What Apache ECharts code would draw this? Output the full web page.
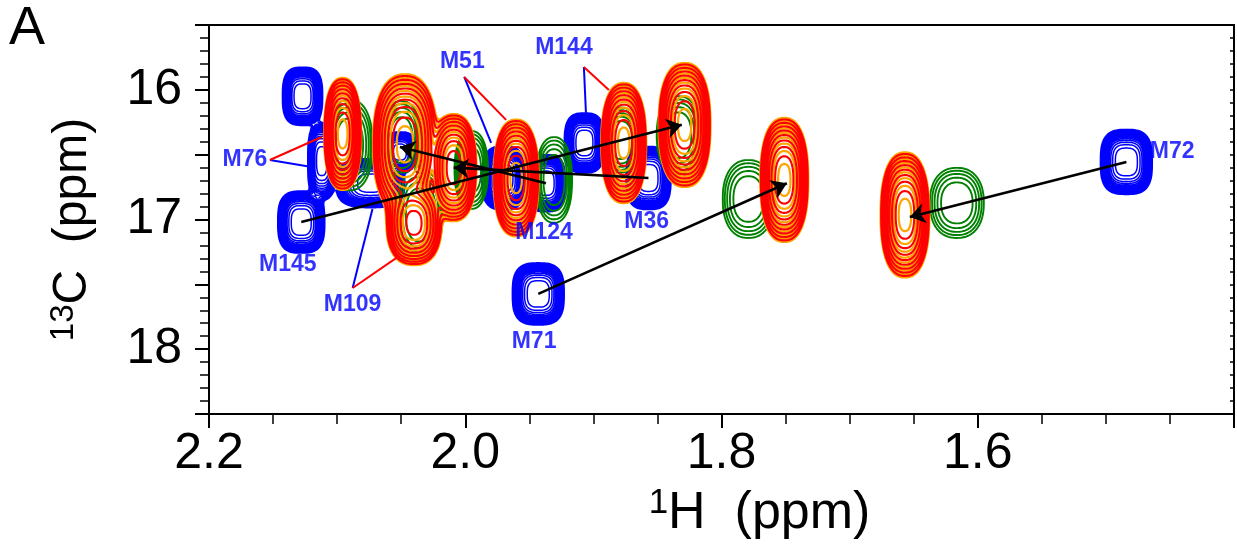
<!DOCTYPE html>
<html>
<head>
<meta charset="utf-8">
<title>Methyl 1H-13C HMQC overlay</title>
<script src="https://cdn.jsdelivr.net/npm/echarts@6/dist/echarts.min.js"></script>
<style>
  html, body { margin: 0; padding: 0; background: #ffffff; }
  #chart { width: 1237px; height: 549px; }
</style>
</head>
<body>
<div id="chart"></div>
<script>
// ---- spectral window (ppm) ----
const H_MIN = 1.4, H_MAX = 2.2;
const C_MIN = 15.5, C_MAX = 18.5;

// ---- peaks: [1H ppm, 13C ppm, half-width 1H, half-width 13C, relative height] ----
// reference state (blue)
const refPeaks = [
  [2.127, 16.05, 0.0156, 0.224, 1.0],
  [2.128, 17.02, 0.0183, 0.239, 1.0],   // M145
  [2.112, 16.55, 0.0110, 0.300, 0.9],   // M76
  [2.074, 16.72, 0.0270, 0.190, 0.9],   // M109
  [2.051, 16.48, 0.0130, 0.160, 0.7],
  [1.970, 16.68, 0.0170, 0.245, 1.0],   // M51
  [1.937, 16.72, 0.0150, 0.220, 1.0],   // M124
  [1.907, 16.41, 0.0156, 0.231, 1.0],   // M144
  [1.857, 16.68, 0.0175, 0.243, 1.0],   // M36
  [1.943, 17.574, 0.0202, 0.239, 1.0],  // M71
  [1.484, 16.556, 0.0202, 0.250, 1.0]   // M72
];
// intermediate state (green)
const midPeaks = [
  [1.6163, 16.872, 0.0210, 0.27, 1.0],
  [1.779, 16.842, 0.0200, 0.30, 1.0],
  [1.8335, 16.35, 0.0170, 0.30, 1.0],
  [1.8786, 16.387, 0.0150, 0.25, 1.0],
  [1.9307, 16.695, 0.0140, 0.33, 1.0],
  [1.9953, 16.618, 0.0130, 0.30, 1.0],
  [2.0498, 16.387, 0.0150, 0.30, 1.0],
  [2.0903, 16.425, 0.0180, 0.35, 1.0],
  [2.0358, 16.965, 0.0180, 0.35, 1.0]
];
// bound states (orange and red spectra share positions)
const boundPeaks = [
  [2.0957, 16.34, 0.0144, 0.432, 1.0],
  [2.0470, 16.42, 0.0250, 0.540, 1.0],
  [2.0090, 16.60, 0.0180, 0.420, 0.85],
  [2.0400, 17.03, 0.0220, 0.330, 0.8],
  [1.9603, 16.68, 0.0175, 0.450, 1.0],
  [1.8763, 16.41, 0.0175, 0.463, 1.0],
  [1.8288, 16.271, 0.0202, 0.478, 1.0],
  [1.751, 16.695, 0.0187, 0.478, 1.0],
  [1.6568, 16.965, 0.0190, 0.482, 1.0]
];

// ---- chemical shift perturbation arrows: start -> end ----
const arrowStart = [[2.128, 17.02], [1.937, 16.72], [1.857, 16.68], [1.943, 17.574], [1.484, 16.556]];
const arrowEnd   = [[1.831, 16.27], [2.051, 16.44], [2.009, 16.60], [1.749, 16.72], [1.653, 16.98]];

// ---- assignment labels ----
const labelNames = ['M76', 'M145', 'M109', 'M51', 'M144', 'M124', 'M36', 'M71', 'M72'];
const labelPos = [[2.172, 16.541], [2.1385, 17.35], [2.088, 17.659], [2.0023, 15.785], [1.923, 15.677],
                  [1.9385, 17.104], [1.8584, 17.019], [1.9463, 17.944], [1.4483, 16.479]];
// leader lines from labels to the reference (blue) and bound (red) peaks
const leaderBlue = [[[2.1525, 16.541], [2.1198, 16.595]], [[2.0879, 17.528], [2.0724, 16.919]],
                    [[2.0008, 15.901], [1.9798, 16.41]], [[1.9074, 15.824], [1.9058, 16.178]]];
const leaderRed  = [[[2.1525, 16.541], [2.1121, 16.364]], [[2.0879, 17.528], [2.0537, 17.296]],
                    [[2.0008, 15.901], [1.9681, 16.232]], [[1.9074, 15.824], [1.8879, 16.001]]];

// ---- contour computation on a regular grid in ppm ----
const NX = 800, NY = 300;
const DX = (H_MAX - H_MIN) / NX, DY = (C_MAX - C_MIN) / NY;
const L0 = 0.02, LN0 = Math.log(1 / L0);

function buildField(peaks, p) {
  const W = NX + 1;
  const g = new Float64Array(W * (NY + 1));
  const k = Math.pow(LN0, 1 / p);
  for (const [h, c, wh, wc, a] of peaks) {
    const sh = wh / k, sc = wc / k;
    const i0 = Math.max(0, Math.floor((h - 1.7 * wh - H_MIN) / DX));
    const i1 = Math.min(NX, Math.ceil((h + 1.7 * wh - H_MIN) / DX));
    const j0 = Math.max(0, Math.floor((c - 1.7 * wc - C_MIN) / DY));
    const j1 = Math.min(NY, Math.ceil((c + 1.7 * wc - C_MIN) / DY));
    for (let j = j0; j <= j1; j++) {
      const v = Math.pow(Math.abs((C_MIN + j * DY - c) / sc), p);
      for (let i = i0; i <= i1; i++) {
        const u = Math.pow(Math.abs((H_MIN + i * DX - h) / sh), p);
        g[j * W + i] += a * Math.exp(-(u + v));
      }
    }
  }
  return g;
}

// marching squares: appends segments [h1, c1, h2, c2] for one level
function traceLevel(g, L, out) {
  const W = NX + 1;
  for (let j = 0; j < NY; j++) {
    const y0 = C_MIN + j * DY, y1 = y0 + DY;
    for (let i = 0; i < NX; i++) {
      const v0 = g[j * W + i], v1 = g[j * W + i + 1], v2 = g[(j + 1) * W + i + 1], v3 = g[(j + 1) * W + i];
      const idx = (v0 > L ? 1 : 0) | (v1 > L ? 2 : 0) | (v2 > L ? 4 : 0) | (v3 > L ? 8 : 0);
      if (idx === 0 || idx === 15) continue;
      const x0 = H_MIN + i * DX, x1 = x0 + DX;
      const e = (n) => {
        if (n === 0) return [x0 + (L - v0) / (v1 - v0) * DX, y0];
        if (n === 1) return [x1, y0 + (L - v1) / (v2 - v1) * DY];
        if (n === 2) return [x0 + (L - v3) / (v2 - v3) * DX, y1];
        return [x0, y0 + (L - v0) / (v3 - v0) * DY];
      };
      const seg = (a, b) => { const P = e(a), Q = e(b); out.push(P[0], P[1], Q[0], Q[1]); };
      const mid = (v0 + v1 + v2 + v3) / 4 > L;
      switch (idx) {
        case 1: case 14: seg(3, 0); break;
        case 2: case 13: seg(0, 1); break;
        case 3: case 12: seg(3, 1); break;
        case 4: case 11: seg(1, 2); break;
        case 6: case 9: seg(0, 2); break;
        case 7: case 8: seg(2, 3); break;
        case 5: if (mid) { seg(0, 1); seg(2, 3); } else { seg(3, 0); seg(1, 2); } break;
        case 10: if (mid) { seg(3, 0); seg(1, 2); } else { seg(0, 1); seg(2, 3); } break;
      }
    }
  }
}

function contourSegments(peaks, p, levels) {
  const g = buildField(peaks, p);
  const out = [];
  levels.forEach(L => traceLevel(g, L, out));
  return out;
}

// contour levels rising geometrically from the lowest (outermost) one
function geomLevels(base, factor, count, offset) {
  const lv = [];
  for (let k = 0; k < count; k++) lv.push(base * Math.pow(factor, k + offset));
  return lv;
}

const blueSegs   = contourSegments(refPeaks, 3.0, geomLevels(L0, 1.32, 14, 0));
const greenSegs  = contourSegments(midPeaks, 2.3, geomLevels(L0, 2.0, 5, 0));
const orangeSegs = contourSegments(boundPeaks, 2.4, geomLevels(L0, 1.6, 9, 0));
const redSegs    = contourSegments(boundPeaks, 2.4, geomLevels(L0, 1.6, 9, 0.5));

function contourSeries(segs, color, width, z) {
  return {
    type: 'custom',
    coordinateSystem: 'cartesian2d',
    silent: true,
    clip: true,
    z: z,
    data: [[(H_MIN + H_MAX) / 2, (C_MIN + C_MAX) / 2]],
    renderItem: function (params, api) {
      const parts = [];
      for (let k = 0; k < segs.length; k += 4) {
        const a = api.coord([segs[k], segs[k + 1]]);
        const b = api.coord([segs[k + 2], segs[k + 3]]);
        parts.push('M' + a[0].toFixed(2) + ' ' + a[1].toFixed(2) + 'L' + b[0].toFixed(2) + ' ' + b[1].toFixed(2));
      }
      return {
        type: 'path',
        shape: { pathData: parts.join('') },
        style: { fill: 'none', stroke: color, lineWidth: width, lineCap: 'round', lineJoin: 'round' }
      };
    }
  };
}

const FONT = 'Liberation Sans, Arial, Helvetica, sans-serif';
const chart = echarts.init(document.getElementById('chart'), null, { renderer: 'canvas' });

chart.setOption({
  animation: false,
  backgroundColor: '#ffffff',
  grid: { left: 209, top: 25, width: 1027, height: 389, show: true, borderColor: '#000', borderWidth: 2, containLabel: false },
  graphic: [{
    type: 'text', left: 9, top: 2,
    style: { text: 'A', font: '54px ' + FONT, fill: '#000' }
  }],
  xAxis: {
    type: 'value', min: H_MIN, max: H_MAX, interval: 0.2, inverse: true,
    name: '{s|1}{t|H  (ppm)}', nameLocation: 'middle', nameGap: 72,
    nameTextStyle: {
      padding: [0, 0, 0, 76],
      rich: {
        s: { fontSize: 35, fontFamily: FONT, color: '#000', verticalAlign: 'top', lineHeight: 56 },
        t: { fontSize: 52, fontFamily: FONT, color: '#000', lineHeight: 56 }
      }
    },
    axisLine: { show: true, onZero: false, lineStyle: { color: '#000', width: 2 } },
    axisTick: { show: true, inside: false, length: 14, lineStyle: { color: '#000', width: 2 } },
    minorTick: { show: true, splitNumber: 4, length: 10, lineStyle: { color: '#000', width: 1.5 } },
    axisLabel: {
      show: true, margin: 15, fontSize: 50, fontFamily: FONT, color: '#000',
      showMinLabel: true, showMaxLabel: true,
      formatter: v => (Math.abs(v - H_MIN) < 1e-6 ? '' : v.toFixed(1))
    },
    splitLine: { show: false }, minorSplitLine: { show: false }
  },
  yAxis: [{
    type: 'value', min: C_MIN, max: C_MAX, interval: 0.5, inverse: true, position: 'left',
    name: '{s|13}{t|C  (ppm)}', nameLocation: 'middle', nameRotate: 90, nameGap: 110,
    nameTextStyle: {
      padding: [0, 20, 0, 0],
      rich: {
        s: { fontSize: 33, fontFamily: FONT, color: '#000', verticalAlign: 'top', lineHeight: 52 },
        t: { fontSize: 48, fontFamily: FONT, color: '#000', lineHeight: 52 }
      }
    },
    axisLine: { show: true, onZero: false, lineStyle: { color: '#000', width: 2 } },
    axisTick: { show: true, inside: false, length: 14, lineStyle: { color: '#000', width: 2 } },
    minorTick: { show: true, splitNumber: 5, length: 9, lineStyle: { color: '#000', width: 1.5 } },
    axisLabel: {
      show: true, margin: 27, fontSize: 50, fontFamily: FONT, color: '#000',
      formatter: v => (Math.abs(v - Math.round(v)) < 1e-6 ? String(Math.round(v)) : '')
    },
    splitLine: { show: false }, minorSplitLine: { show: false }
  }, {
    type: 'value', min: C_MIN, max: C_MAX, interval: 0.1, inverse: true, position: 'right',
    axisLine: { show: true, onZero: false, lineStyle: { color: '#000', width: 2 } },
    axisTick: { show: true, inside: true, length: 4, lineStyle: { color: '#000', width: 1.5 } },
    axisLabel: { show: false },
    splitLine: { show: false }
  }],
  series: [
    contourSeries(blueSegs, '#0000ff', 1.5, 2),
    contourSeries(greenSegs, '#008000', 1.9, 3),
    contourSeries(orangeSegs, '#ffa500', 2.2, 4),
    contourSeries(redSegs, '#ff0000', 2.1, 5),
    {
      type: 'lines', coordinateSystem: 'cartesian2d', z: 8, silent: true,
      symbol: ['none', 'arrow'], symbolSize: [0, 15],
      lineStyle: { color: '#000', width: 2.6, opacity: 1, curveness: 0 },
      data: arrowStart.map((s, i) => ({ coords: [s, arrowEnd[i]] }))
    },
    {
      type: 'lines', coordinateSystem: 'cartesian2d', z: 9, silent: true,
      symbol: 'none',
      lineStyle: { width: 2, opacity: 1 },
      data: leaderBlue.map(c => ({ coords: c, lineStyle: { color: '#0000ff' } }))
        .concat(leaderRed.map(c => ({ coords: c, lineStyle: { color: '#ff0000' } })))
    },
    {
      type: 'scatter', z: 10, silent: true, symbolSize: 0,
      data: labelNames.map((n, i) => ({ name: n, value: labelPos[i] })),
      label: {
        show: true, position: 'inside', formatter: p => p.name,
        color: '#0000ff', fontWeight: 'bold', fontSize: 23, fontFamily: FONT,
        textBorderWidth: 0, textShadowBlur: 0
      }
    }
  ]
});
</script>
</body>
</html>
